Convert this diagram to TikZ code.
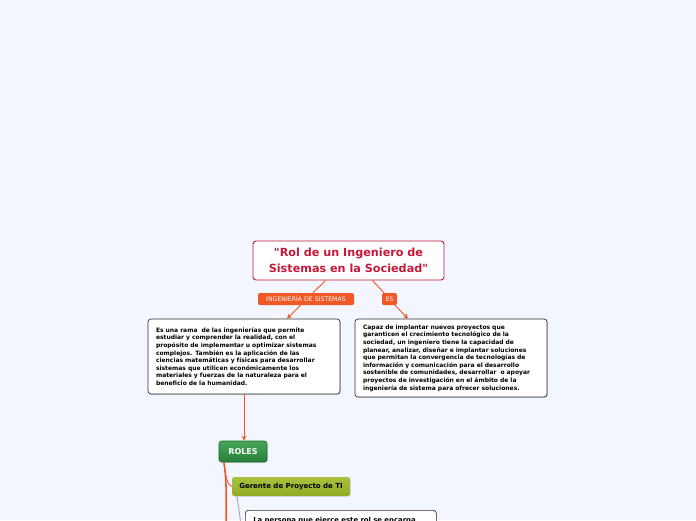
\documentclass[tikz,border=0pt]{standalone}
\usepackage{fontspec}
\usepackage{xcolor}
\usepackage{tikz}
\usetikzlibrary{calc,arrows.meta,positioning,shadows}
\newfontfamily\mapfont{DejaVu Sans}
\definecolor{mapBack}{RGB}{243,246,254}
\definecolor{mapCrimson}{RGB}{196,24,56}
\definecolor{mapOrange}{RGB}{240,88,38}
\definecolor{mapGreenTop}{RGB}{72,166,88}
\definecolor{mapGreenBot}{RGB}{38,128,58}
\definecolor{mapOliveTop}{RGB}{170,192,60}
\definecolor{mapOliveBot}{RGB}{146,172,38}
\definecolor{mapGray}{RGB}{48,48,48}

\begin{document}
\begin{tikzpicture}[x=1pt,y=-1pt,
  every node/.style={font=\mapfont},
  topicbox/.style={draw=mapCrimson, line width=0.9pt, fill=white, rounded corners=3pt,
    minimum width=191pt, minimum height=39pt, text=mapCrimson, align=center,
    font=\mapfont\bfseries\fontsize{11.2}{16}\selectfont},
  infobox/.style={draw=mapGray, line width=0.7pt, fill=white, rounded corners=3pt,
    drop shadow={shadow xshift=0.8pt, shadow yshift=-0.8pt, opacity=0.35},
    minimum width=192pt, inner xsep=8pt, text width=176pt, align=left,
    font=\mapfont\bfseries\fontsize{6}{7.6}\selectfont},
  tagbox/.style={fill=mapOrange, rounded corners=1.5pt, text=white, inner xsep=3pt,
    minimum height=12pt, inner ysep=0pt, font=\mapfont\fontsize{6.2}{7}\selectfont},
  rolebox/.style={draw=mapGreenBot!80!black, line width=0.6pt, rounded corners=2.5pt,
    top color=mapGreenTop, bottom color=mapGreenBot, text=white,
    minimum width=48pt, minimum height=21pt,
    drop shadow={shadow xshift=0.6pt, shadow yshift=-0.6pt, opacity=0.3},
    font=\mapfont\bfseries\fontsize{8}{9}\selectfont},
  subbox/.style={rounded corners=2.5pt, top color=mapOliveTop, bottom color=mapOliveBot,
    minimum width=118pt, minimum height=19pt,
    drop shadow={shadow xshift=0.6pt, shadow yshift=-0.6pt, opacity=0.3},
    font=\mapfont\bfseries\fontsize{7}{8}\selectfont},
  conn/.style={mapOrange, line width=0.9pt},
  tip/.style={-{Stealth[length=5pt,width=5pt]}}]

\fill[mapBack] (0,0) rectangle (696,520);
\useasboundingbox (0,0) rectangle (696,520);
\clip (0,0) rectangle (696,520);

% central topic
\node[topicbox] (title) at (348.5,260.5) {"Rol de un Ingeniero de\\Sistemas en la Sociedad"};

% first level
\node[infobox, minimum height=75pt] (rama) at (244,356.5) {Es una rama\ \ de las ingenierías que permite\\estudiar y comprender la realidad, con el\\propósito de implementar u optimizar sistemas\\complejos. También es la aplicación de las\\ciencias matemáticas y físicas para desarrollar\\sistemas que utilicen económicamente los\\materiales y fuerzas de la naturaleza para el\\beneficio de la humanidad.};
\node[infobox, minimum height=78pt] (capaz) at (451,358) {Capaz de implantar nuevos proyectos que\\garanticen el crecimiento tecnológico de la\\sociedad, un ingeniero tiene la capacidad de\\planear, analizar, diseñar e implantar soluciones\\que permitan la convergencia de tecnologías de\\información y comunicación para el desarrollo\\sostenible de comunidades, desarrollar\ \ o apoyar\\proyectos de investigación en el ámbito de la\\ingeniería de sistema para ofrecer soluciones.};

% link labels
\node[tagbox, minimum width=96pt] (ingtag) at (306,299) {INGENIERÍA DE SISTEMAS};
\node[tagbox, minimum width=15pt] (estag) at (389.5,299) {ES};

\draw[conn] ([xshift=-23pt]title.south) -- ([xshift=7pt]ingtag.north);
\draw[conn,tip] ([xshift=-5.5pt]ingtag.south) -- ([xshift=43pt]rama.north);
\draw[conn] ([xshift=24pt]title.south) -- ([xshift=-5.5pt]estag.north);
\draw[conn,tip] ([xshift=5.5pt]estag.south) -- ([xshift=-43pt]capaz.north);

% roles
\node[rolebox] (roles) at (243,451.5) {ROLES};
\draw[conn,tip] (rama.south) -- (rama.south |- roles.north);

\node[subbox] (gerente) at (291,486.5) {Gerente de Proyecto de TI};
\node[infobox, anchor=north west, minimum width=191pt, text width=175pt,
  inner ysep=7pt, text height=5pt, text depth=40pt,
  font=\mapfont\bfseries\fontsize{6.9}{8.5}\selectfont] (persona) at (245,510) {La persona que ejerce este rol se encarga};

\coordinate (rolesdown) at (226,530);
\coordinate (gerdown) at (241,530);
\draw[conn, line width=1.6pt] ([xshift=-19pt]roles.south) .. controls (225,472) and (227,476) .. (rolesdown);
\draw[conn] ([xshift=-19pt]roles.south) .. controls (225,476) and (228,486) .. (gerente.west);
\draw[gray!70, line width=0.9pt] ([xshift=-54pt]gerente.south) .. controls (238,506) and (240,512) .. (gerdown);
\end{tikzpicture}
\end{document}
